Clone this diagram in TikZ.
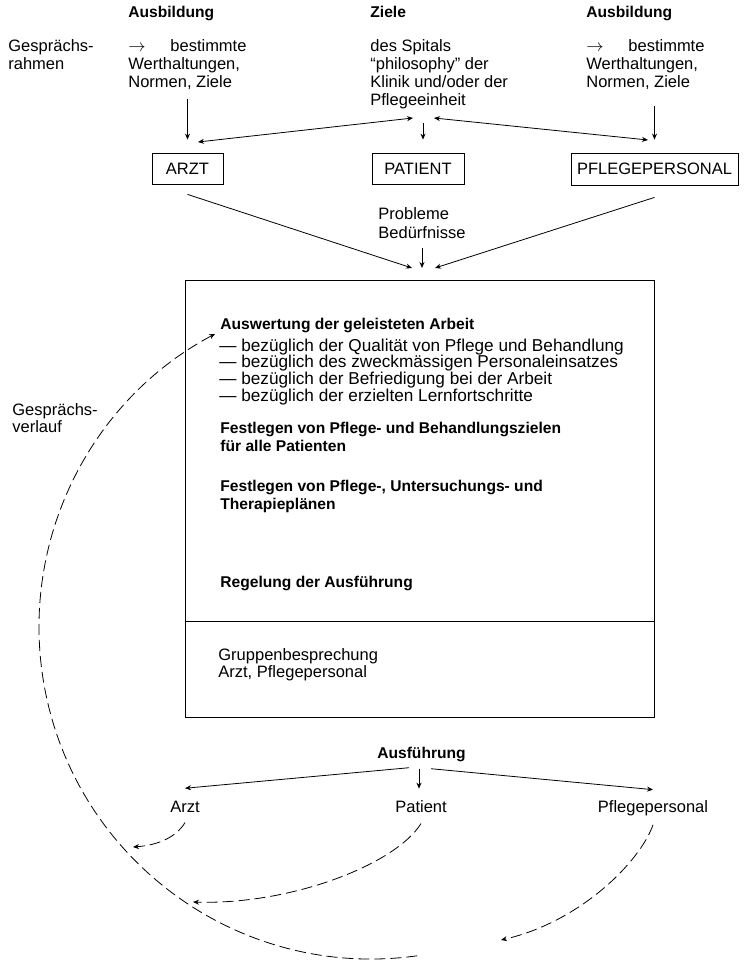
\documentclass[tikz,border=0pt]{standalone}
\usepackage{fontspec}
\setmainfont{Liberation Sans}
\usetikzlibrary{arrows.meta}
\begin{document}
\begin{tikzpicture}[x=1pt,y=-1pt,line width=0.8pt,
  >={Stealth[length=6pt,width=5pt]},
  txt/.style={inner sep=0pt,anchor=base west,font=\fontsize{16.5}{20}\selectfont},
  ltxt/.style={txt,font=\fontsize{17.2}{20}\selectfont},
  btxt/.style={txt,font=\fontsize{15.6}{18}\selectfont\bfseries},
  boxnode/.style={draw,inner sep=0pt,font=\fontsize{16.5}{20}\selectfont},
  dsh/.style={dash pattern=on 11pt off 5pt}]
\useasboundingbox (0,0) rectangle (752,963);

% headings
\node[btxt] (h1) at (128,18) {Ausbildung};
\node[btxt] (h2) at (370,18) {Ziele};
\node[btxt] (h3) at (586,18) {Ausbildung};
\node[txt] (gr1) at (8,52) {Gesprächs-};
\node[txt] (gr2) at (8,69.8) {rahmen};

\foreach \t [count=\i] in {{\makebox[42pt][l]{$\rightarrow$}bestimmte},{Werthaltungen,},{Normen, Ziele}}
  \node[txt] (lb\i) at (128,{52+(\i-1)*17.8}) {\t};
\foreach \t [count=\i] in {{des Spitals},{“philosophy” der},{Klinik und/oder der},{Pflegeeinheit}}
  \node[txt] (cb\i) at (370,{52+(\i-1)*17.8}) {\t};
\foreach \t [count=\i] in {{\makebox[42pt][l]{$\rightarrow$}bestimmte},{Werthaltungen,},{Normen, Ziele}}
  \node[txt] (rb\i) at (586,{52+(\i-1)*17.8}) {\t};

% boxes
\node[boxnode,minimum width=71pt,minimum height=31pt] (arzt) at (187.5,168.5) {ARZT};
\node[boxnode,minimum width=92pt,minimum height=31pt] (patient) at (418,168.5) {PATIENT};
\node[boxnode,minimum width=167pt,minimum height=32pt] (pflege) at (654.5,169) {PFLEGEPERSONAL};

\draw[->,shorten <=9pt,shorten >=13pt] (lb3.south -| arzt.north) -- (arzt.north);
\draw[->,shorten <=16pt,shorten >=13pt] (rb3.south -| pflege.north) -- (pflege.north);
\draw[->,shorten <=14pt,shorten >=13pt] ([xshift=5pt]cb4.south -| patient.north) -- ([xshift=5pt]patient.north);
\coordinate (al) at (198,142);
\coordinate (zl) at (413,118);
\coordinate (zr) at (434,118);
\coordinate (pr) at (648,140);
\draw[<->] (al) -- (zl);
\draw[<->] (zr) -- (pr);

% problems
\node[txt] (pb1) at (378,219) {Probleme};
\node[txt] (pb2) at (378,238) {Bedürfnisse};
\coordinate (t1) at (412,268);
\coordinate (t2) at (422,268);
\coordinate (t3) at (435,268);
\draw[->] ([yshift=-10pt]arzt.south) -- (t1);
\draw[->] ([yshift=-12pt]pflege.south) -- (t3);
\draw[->] (t2 |- 0,248) -- (t2);

% main box
\node[draw,inner sep=0pt,minimum width=469pt,minimum height=437pt] (mainbox) at (419.5,498.5) {};
\draw (mainbox.west |- 0,621) -- (mainbox.east |- 0,621);

\node[btxt] (aw) at (220,329) {Auswertung der geleisteten Arbeit};
\foreach \t [count=\i] in {{der Qualität von Pflege und Behandlung},{des zweckmässigen Personaleinsatzes},{der Befriedigung bei der Arbeit},{der erzielten Lernfortschritte}}
  \node[ltxt] (li\i) at (219,{351+(\i-1)*16.8}) {— bezüglich \t};
\node[btxt] (fa1) at (220,433) {Festlegen von Pflege- und Behandlungszielen};
\node[btxt] (fa2) at (220,451) {für alle Patienten};
\node[btxt] (fb1) at (220,491) {Festlegen von Pflege-, Untersuchungs- und};
\node[btxt] (fb2) at (220,509) {Therapieplänen};
\node[btxt] (rg) at (220,587) {Regelung der Ausführung};
\node[txt] (gb1) at (218,660) {Gruppenbesprechung};
\node[txt] (gb2) at (218,677) {Arzt, Pflegepersonal};

\node[txt] (gv1) at (12,415) {Gesprächs-};
\node[txt] (gv2) at (12,432) {verlauf};

% execution
\node[btxt,anchor=base] (ausf) at (421.5,758) {Ausführung};
\node[txt,anchor=base] (arzt2) at (185,812) {Arzt};
\node[txt,anchor=base] (pat2) at (421,812) {Patient};
\node[txt,anchor=base] (pfl2) at (653,812) {Pflegepersonal};

\draw[->] ([shift={(-12.5pt,-6pt)}]ausf.south) -- ([yshift=12pt]arzt2.north);
\draw[->] ([shift={(-2.5pt,-7pt)}]ausf.south) -- ([xshift=-2pt,yshift=11pt]pat2.north);
\draw[->] ([shift={(9.5pt,-7pt)}]ausf.south) -- ([yshift=10pt]pfl2.north);

\coordinate (e1) at (133,847);
\coordinate (e2) at (193,902);
\coordinate (e3) at (501,940);
\draw[->,dsh] ([yshift=-10pt]arzt2.south) .. controls (177,836) and (160,845) .. (e1);
\draw[->,dsh] ([yshift=-11pt]pat2.south) .. controls (395,865) and (290,905) .. (e2);
\draw[->,dsh] ([yshift=-9pt]pfl2.south) .. controls (640,862) and (580,922) .. (e3);

% big arc
\coordinate (cc) at (371,627);
\draw[->,dsh] (cc) ++(82:332) arc[start angle=82,end angle=242,radius=332];
\end{tikzpicture}
\end{document}
